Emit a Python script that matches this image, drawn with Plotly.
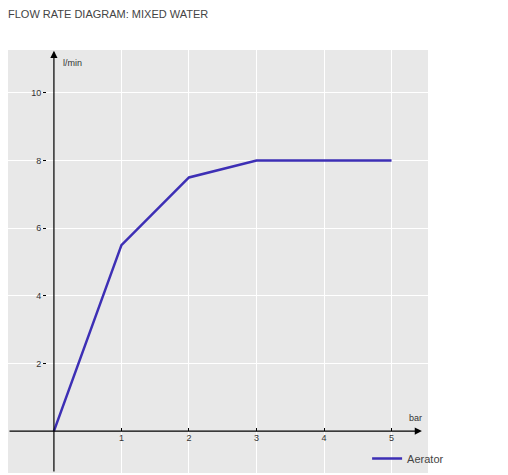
import plotly.graph_objects as go

pressure_bar = [0, 1, 2, 3, 4, 5]
flow_lpm = [0, 5.5, 7.5, 8, 8, 8]
x_ticks = [1, 2, 3, 4, 5]
y_ticks = [2, 4, 6, 8, 10]

fig = go.Figure()
fig.add_trace(go.Scatter(x=pressure_bar, y=flow_lpm, mode='lines', name='Aerator',
                         line=dict(color='#3d2fb5', width=2.5)))

W, H = 508, 475
l, r, t, b = 0, 88, 42, 10
fig.update_layout(
    width=W, height=H, margin=dict(l=l, r=r, t=t, b=b, autoexpand=False),
    paper_bgcolor='white', plot_bgcolor='#e8e8e8',
    font=dict(family='Liberation Sans', color='#333', size=9),
    title=dict(text='FLOW RATE DIAGRAM: MIXED WATER', x=0.0, xanchor='left', y=0.995, yanchor='top',
               font=dict(size=11, color='#444')),
    showlegend=True,
    legend=dict(x=0.855, y=0.0, xanchor='left', yanchor='bottom', bgcolor='rgba(0,0,0,0)',
                font=dict(size=11, color='#444')),
    xaxis=dict(range=[-0.68, 5.54], tickvals=x_ticks, showgrid=True, gridcolor='white', gridwidth=1,
               zeroline=False, showline=False, anchor='free', position=52 / H,
               ticks='outside', ticklen=3, tickcolor='black'),
    yaxis=dict(range=[-1.24, 11.27], tickvals=y_ticks, showgrid=True, gridcolor='white', gridwidth=1,
               zeroline=False, showline=False, anchor='free', position=46 / W,
               ticks='outside', ticklen=3, tickcolor='black'),
)
# axis lines with arrow heads
fig.add_annotation(x=5.45, y=0, ax=-0.68, ay=0, xref='x', yref='y', axref='x', ayref='y',
                   showarrow=True, arrowhead=2, arrowsize=1.2, arrowwidth=1.2, arrowcolor='black', text='')
fig.add_annotation(x=0, y=11.25, ax=0, ay=-1.24, xref='x', yref='y', axref='x', ayref='y',
                   showarrow=True, arrowhead=2, arrowsize=1.2, arrowwidth=1.2, arrowcolor='black', text='')
fig.add_annotation(x=0.1, y=10.9, xref='x', yref='y', text='l/min', showarrow=False,
                   xanchor='left', font=dict(size=9, color='#333'))
fig.add_annotation(x=5.35, y=0.4, xref='x', yref='y', text='bar', showarrow=False,
                   font=dict(size=9, color='#333'))

fig.write_html("out.html")
